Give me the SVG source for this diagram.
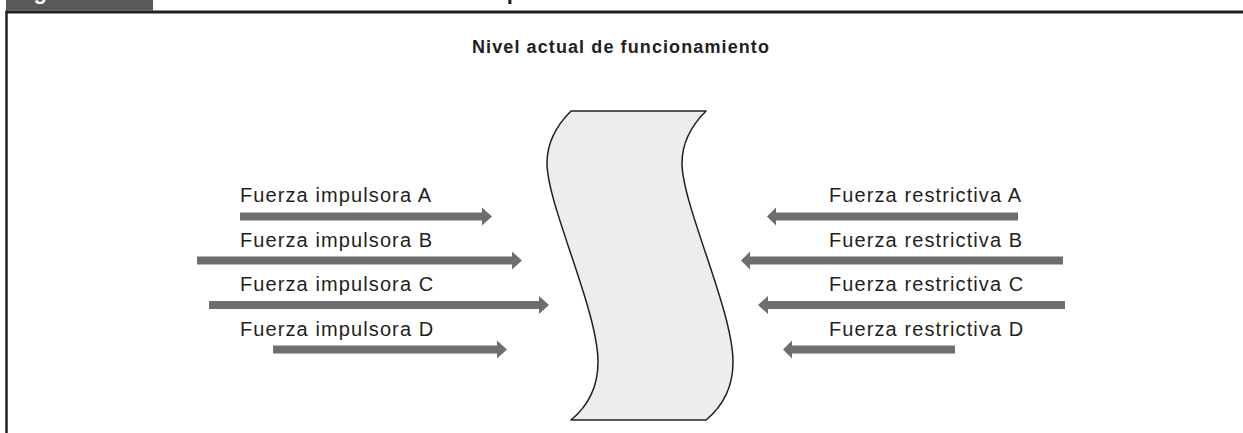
<svg xmlns="http://www.w3.org/2000/svg" width="1243" height="433" viewBox="0 0 1243 433">
  <style>
    .lbl { font-family: "Liberation Sans", Arial, sans-serif; font-size: 20px; letter-spacing: 1.1px; fill: #231f20; }
    .ttl { font-family: "Liberation Sans", Arial, sans-serif; font-size: 18px; font-weight: bold; letter-spacing: 1.1px; fill: #231f20; }
    .hdr { font-family: "Liberation Sans", Arial, sans-serif; font-size: 22px; font-weight: bold; letter-spacing: 1px; }
    .arrow { fill: #6d6e71; }
  </style>
  <rect width="1243" height="433" fill="#ffffff"/>
  <g id="header">
    <rect x="6" y="0" width="147" height="10.5" fill="#58595b"/>
    <text class="hdr" x="12" y="-1" fill="#ffffff">Figura</text>
    <text class="hdr" x="197" y="-1" fill="#231f20">Modelo de análisis del campo de fuerza</text>
    <line x1="6" y1="12" x2="1243" y2="12" stroke="#231f20" stroke-width="3"/>
    <line x1="6.5" y1="10.5" x2="6.5" y2="433" stroke="#231f20" stroke-width="2.5"/>
  </g>
  <g id="title">
    <text class="ttl" x="621" y="53" text-anchor="middle">Nivel actual de funcionamiento</text>
  </g>
  <g id="nivel-actual">
    <path d="M571,111 C557,125 547,142 547,163 C547,205 598,310 598,362 C598,388 588,406 571,420 L706,420 C723,406 733,388 733,362 C733,310 682,205 682,163 C682,142 692,125 706,111 Z" fill="#ededed" stroke="#231f20" stroke-width="1.5" stroke-linejoin="round"/>
  </g>
  <g id="impulsora-a"><text class="lbl" x="240" y="202">Fuerza impulsora A</text></g>
  <g id="impulsora-b"><text class="lbl" x="240" y="246.5">Fuerza impulsora B</text></g>
  <g id="impulsora-c"><text class="lbl" x="240" y="290.5">Fuerza impulsora C</text></g>
  <g id="impulsora-d"><text class="lbl" x="240" y="335.5">Fuerza impulsora D</text></g>
  <g id="restrictiva-a"><text class="lbl" x="829" y="202">Fuerza restrictiva A</text></g>
  <g id="restrictiva-b"><text class="lbl" x="829" y="246.5">Fuerza restrictiva B</text></g>
  <g id="restrictiva-c"><text class="lbl" x="829" y="290.5">Fuerza restrictiva C</text></g>
  <g id="restrictiva-d"><text class="lbl" x="829" y="335.5">Fuerza restrictiva D</text></g>
  <g id="connectors">
    <path class="arrow" d="M240,212.5 H482 V207.5 L492,216.5 L482,225.5 V220.5 H240 Z"/>
    <path class="arrow" d="M197,256.5 H512 V251.5 L522,260.5 L512,269.5 V264.5 H197 Z"/>
    <path class="arrow" d="M209,301 H539 V296 L549,305 L539,314 V309 H209 Z"/>
    <path class="arrow" d="M273,345.5 H497 V340.5 L507,349.5 L497,358.5 V353.5 H273 Z"/>
    <path class="arrow" d="M1018,212.5 H776 V207.5 L767,216.5 L776,225.5 V220.5 H1018 Z"/>
    <path class="arrow" d="M1063,256.5 H750 V251.5 L741,260.5 L750,269.5 V264.5 H1063 Z"/>
    <path class="arrow" d="M1065,301 H768 V296 L758,305 L768,314 V309 H1065 Z"/>
    <path class="arrow" d="M955,345.5 H792 V340.5 L783,349.5 L792,358.5 V353.5 H955 Z"/>
  </g>
</svg>
